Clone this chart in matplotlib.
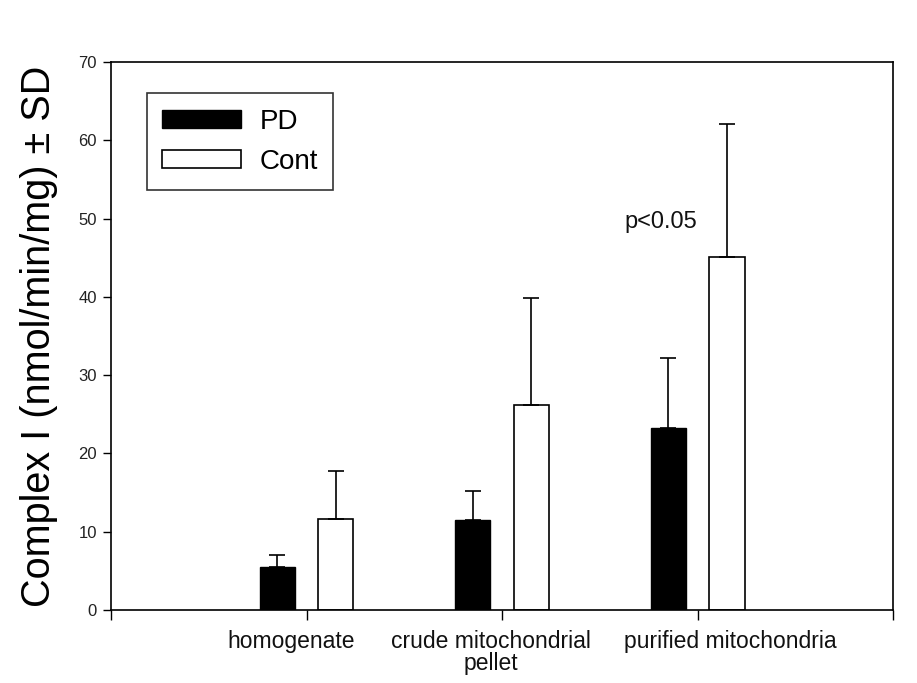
import matplotlib
matplotlib.use("Agg")
import matplotlib.pyplot as plt
import matplotlib.transforms as mtransforms
import numpy as np

plt.rcParams['font.family'] = ['Liberation Sans', 'DejaVu Sans']

groups = ['homogenate', 'crude mitochondrial\npellet', 'purified mitochondria']
group_x = [1, 2, 3]
label_x = [0.92, 1.945, 3.165]
pd_mean = [5.5, 11.5, 23.2]
pd_sd = [1.5, 3.7, 9.0]
cont_mean = [11.6, 26.2, 45.1]
cont_sd = [6.2, 13.6, 17.0]

fig = plt.figure(figsize=(9.17, 6.83), dpi=100)
ax = fig.add_axes([0.121, 0.107, 0.853, 0.802])

x = np.array(group_x, dtype=float)
w = 0.18
off = 0.15
ax.bar(x - off, pd_mean, w, color='black', edgecolor='black', linewidth=1, label='PD', zorder=2)
ax.bar(x + off, cont_mean, w, color='white', edgecolor='black', linewidth=1.2, label='Cont', zorder=2)
ax.errorbar(x - off, pd_mean, yerr=[np.zeros(3), pd_sd], fmt='none', ecolor='black',
            elinewidth=1.2, capsize=5.5, capthick=1.2, zorder=3)
ax.errorbar(x + off, cont_mean, yerr=[np.zeros(3), cont_sd], fmt='none', ecolor='black',
            elinewidth=1.2, capsize=5.5, capthick=1.2, zorder=3)

ax.set_xlim(0, 4)
ax.set_ylim(0, 70)
ax.set_yticks(np.arange(0, 71, 10))
ax.set_xticks([0, 1, 2, 3, 4])
ax.set_xticklabels([])
ax.tick_params(axis='y', direction='out', length=6, width=1, labelsize=12, labelcolor='#222222', pad=4)
ax.tick_params(axis='x', direction='out', length=7, width=1)
for s in ax.spines.values():
    s.set_linewidth(1.2)

trans = mtransforms.blended_transform_factory(ax.transData, ax.transAxes)
for lx, g in zip(label_x, groups):
    ax.text(lx, -0.036, g, transform=trans, ha='center', va='top', fontsize=16.5,
            color='#111111', linespacing=0.95)

ax.text(2.81, 49.6, 'p<0.05', ha='center', va='center', fontsize=17, color='#111111')

ax.set_ylabel('Complex I (nmol/min/mg) \u00b1 SD', fontsize=28.5, labelpad=15)

leg = ax.legend(loc='upper left', bbox_to_anchor=(0.046, 0.943), fontsize=20,
                frameon=True, fancybox=False, handlelength=2.85, handleheight=0.62,
                labelspacing=0.5, borderpad=0.55, handletextpad=0.65, borderaxespad=0)
leg.get_frame().set_edgecolor('black')
leg.get_frame().set_linewidth(1.2)

fig.savefig('out.png', dpi=100)
